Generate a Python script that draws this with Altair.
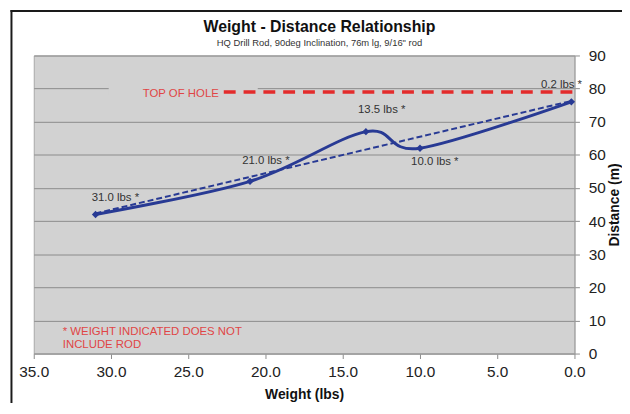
import altair as alt
import pandas as pd

# ---- data ----
weights = [31.0, 21.0, 13.5, 10.0, 0.2]
distances = [42, 52, 67, 62, 76]
point_labels = ["31.0 lbs *", "21.0 lbs *", "13.5 lbs *", "10.0 lbs *", "0.2 lbs *"]
x_ticks = [0, 5, 10, 15, 20, 25, 30, 35]
y_ticks = [0, 10, 20, 30, 40, 50, 60, 70, 80, 90]
top_of_hole = 79
top_line_from = 22.7
top_line_to = 0.0
label_box_x = [30.15, 20.5]
label_box_y = [78.0, 81.6]
footnote = ["* WEIGHT INDICATED DOES NOT", "INCLUDE ROD"]
title_text = "Weight - Distance Relationship"
subtitle_text = "HQ Drill Rod, 90deg Inclination, 76m lg, 9/16\" rod"

# style offsets for labels (pixels)
label_dx = [20, 16, 16, 15, -10]
label_dy = [-17, -21, -22, 14, -17]

NAVY = "#283a94"
RED = "#e32b2b"
FONT = "Liberation Sans"
W, H = 546, 301

df = pd.DataFrame({"weight": weights, "distance": distances, "label": point_labels})
one = pd.DataFrame({"k": [0]})

xs = alt.Scale(domain=[0, 35], reverse=True, nice=False, zero=False)
ys = alt.Scale(domain=[0, 90], nice=False)

x_axis = alt.Axis(values=x_ticks, format=".1f", title="Weight (lbs)", grid=False,
                  labelFontSize=15.5, labelColor="#222", labelPadding=6, labelFlush=False,
                  labelOverlap=False, tickSize=5, titleFontSize=14, titleFontWeight="bold",
                  titleColor="#111", titlePadding=8)
y_axis = alt.Axis(values=y_ticks, orient="right", title="Distance (m)", grid=True,
                  labelFontSize=15.5, labelColor="#222", labelPadding=9, labelOverlap=False,
                  labelFlush=False, tickSize=5, titleFontSize=14, titleFontWeight="bold",
                  titleColor="#111", titleAngle=270, titleBaseline="top", titlePadding=2)


def X(field):
    return alt.X(field, scale=xs, axis=x_axis)


def Y(field):
    return alt.Y(field, scale=ys, axis=y_axis)


base = alt.Chart(df)

# annotation box behind "TOP OF HOLE" (hides gridline)
box_df = pd.DataFrame({"x": [label_box_x[0]], "x2": [label_box_x[1]],
                       "y": [label_box_y[0]], "y2": [label_box_y[1]]})
box = alt.Chart(box_df).mark_rect(color="#d2d2d2").encode(
    x=X("x:Q"), x2="x2:Q", y=Y("y:Q"), y2="y2:Q")

red_df = pd.DataFrame({"x": [top_line_from], "x2": [top_line_to], "y": [top_of_hole],
                       "t": ["TOP OF HOLE"]})
red_line = alt.Chart(red_df).mark_rule(color=RED, strokeWidth=3.5, strokeDash=[12, 8]).encode(
    x=X("x:Q"), x2="x2:Q", y=Y("y:Q"))
red_text = alt.Chart(red_df).mark_text(align="right", baseline="middle", dx=-5, dy=2,
                                       fontSize=11.5, font=FONT, color="#e04545").encode(
    x=X("x:Q"), y=Y("y:Q"), text="t:N")

trend = base.transform_regression("weight", "distance", method="linear").mark_line(
    color=NAVY, strokeWidth=2, strokeDash=[6, 3]).encode(
    x=X("weight:Q"), y=Y("distance:Q"))

line = base.mark_line(color=NAVY, strokeWidth=3, interpolate="cardinal").encode(
    x=X("weight:Q"), y=Y("distance:Q"))

pts = base.mark_point(shape="diamond", filled=True, size=55, color=NAVY, opacity=1).encode(
    x=X("weight:Q"), y=Y("distance:Q"))

text_layers = []
for lab, dx, dy in zip(point_labels, label_dx, label_dy):
    text_layers.append(
        base.transform_filter(alt.datum.label == lab).mark_text(
            dx=dx, dy=dy, fontSize=11.5, font=FONT, color="#333", baseline="middle").encode(
            x=X("weight:Q"), y=Y("distance:Q"), text="label:N"))

note = alt.Chart(one).mark_text(align="left", baseline="middle", fontSize=11.5, font=FONT,
                                fontWeight="normal", color="#e04545", lineHeight=12.7).encode(
    x=alt.value(29.3), y=alt.value(279.3), text=alt.value(footnote))

title = alt.Chart(one).mark_text(align="center", baseline="alphabetic", fontSize=16, font=FONT,
                                 fontWeight="bold", color="#111").encode(
    x=alt.value(288.5), y=alt.value(-23.3), text=alt.value(title_text))
subtitle = alt.Chart(one).mark_text(align="center", baseline="alphabetic", fontSize=9.5,
                                    font=FONT, color="#333").encode(
    x=alt.value(288.5), y=alt.value(-9.5), text=alt.value(subtitle_text))

frame_left = alt.Chart(one).mark_rule(color="#1a1a1a", strokeWidth=2).encode(
    x=alt.value(-22.5), y=alt.value(-46), y2=alt.value(H + 50))
frame_top = alt.Chart(one).mark_rule(color="#1a1a1a", strokeWidth=2).encode(
    x=alt.value(-23.5), x2=alt.value(W + 48), y=alt.value(-45))

chart = alt.layer(box, red_line, red_text, trend, line, pts, *text_layers, note,
                  title, subtitle, frame_left, frame_top).properties(
    width=W, height=H,
    autosize=alt.AutoSizeParams(type="none"),
    padding={"left": 26, "top": 46, "right": 48, "bottom": 50},
).configure(background="white", font=FONT).configure_view(
    fill="#d2d2d2", stroke="#a8a8a8", strokeWidth=1
).configure_axis(
    gridColor="#8c8c8c", gridWidth=1, tickColor="#8c8c8c", domainColor="#a0a0a0",
    labelFont=FONT, titleFont=FONT
)

chart.save("out.html", embed_options={"renderer": "svg", "actions": False})
